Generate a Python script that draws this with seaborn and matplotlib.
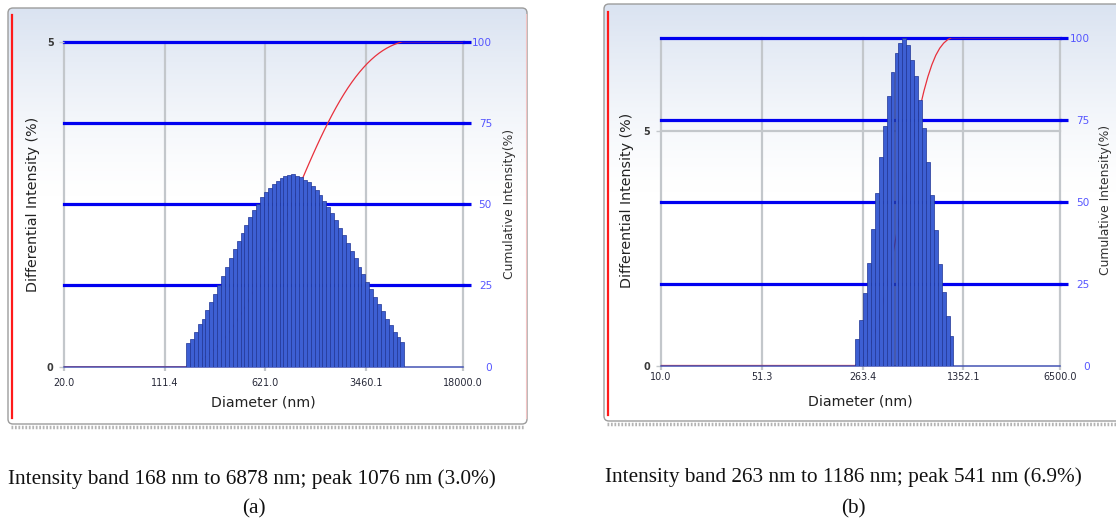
import numpy as np
import seaborn as sns
import matplotlib
matplotlib.use("Agg")
from matplotlib import pyplot as plt
from matplotlib.patches import FancyBboxPatch
from matplotlib.ticker import NullLocator

# panel (a): bin centres (nm) and differential intensity (%)
diam_a = [165.7, 177.1, 189.3, 202.3, 216.2, 231.1, 247.0, 264.0, 282.2, 301.6,
          322.3, 344.5, 368.2, 393.5, 420.6, 449.6, 480.5, 513.5, 548.9, 586.6,
          627.0, 670.1, 716.2, 765.5, 818.2, 874.5, 934.6, 998.9, 1067.7, 1141.1,
          1219.6, 1303.5, 1393.2, 1489.1, 1591.5, 1701.0, 1818.1, 1943.2, 2076.9, 2219.8,
          2372.5, 2535.8, 2710.2, 2896.7, 3096.0, 3309.0, 3536.7, 3780.0, 4040.1, 4318.1,
          4615.2, 4932.7, 5272.1, 5634.9, 6022.6, 6437.0]
diff_a = [0.36, 0.43, 0.53, 0.65, 0.74, 0.87, 0.99, 1.12, 1.26, 1.40,
          1.53, 1.67, 1.81, 1.94, 2.06, 2.18, 2.30, 2.41, 2.51, 2.61,
          2.68, 2.75, 2.81, 2.86, 2.90, 2.93, 2.95, 2.96, 2.94, 2.92,
          2.88, 2.84, 2.78, 2.72, 2.64, 2.55, 2.46, 2.36, 2.26, 2.14,
          2.03, 1.91, 1.78, 1.67, 1.54, 1.43, 1.31, 1.19, 1.08, 0.96,
          0.85, 0.74, 0.64, 0.54, 0.46, 0.38]

# panel (b)
diam_b = [241.4, 257.3, 274.2, 292.3, 311.5, 332.0, 353.9, 377.2, 402.0, 428.5,
          456.7, 486.7, 518.7, 552.9, 589.3, 628.1, 669.4, 713.5, 760.4, 810.5,
          863.8, 920.7, 981.3, 1045.9, 1114.7]
diff_b = [0.56, 0.98, 1.55, 2.19, 2.91, 3.68, 4.45, 5.12, 5.76, 6.27,
          6.68, 6.88, 6.99, 6.84, 6.52, 6.18, 5.67, 5.07, 4.35, 3.64,
          2.90, 2.17, 1.56, 1.05, 0.62]

xticks_a = [20.0, 111.4, 621.0, 3460.1, 18000.0]
xticks_b = [10.0, 51.3, 263.4, 1352.1, 6500.0]
left_ticks = [0, 5]
left_top_a = 5
left_top_b = 7
cum_ticks = [0, 25, 50, 75, 100]
captions = ["Intensity band 168 nm to 6878 nm; peak 1076 nm (3.0%)",
            "Intensity band 263 nm to 1186 nm; peak 541 nm (6.9%)"]
tags = ["(a)", "(b)"]

W, H = 1116, 520
fig = plt.figure(figsize=(W / 100, H / 100), dpi=100)

# background layer in pixel coordinates
bg = fig.add_axes([0, 0, 1, 1])
bg.set_xlim(0, W)
bg.set_ylim(H, 0)
bg.axis("off")

top_col = np.array([0.855, 0.89, 0.945])
t = np.linspace(0, 1, 300)[:, None]
fade = np.clip(1 - t / 0.45, 0, 1) ** 1.3
grad = (1 - fade) * np.ones(3) + fade * top_col
grad = np.repeat(grad[:, None, :], 2, axis=1)


def px(x, y):
    return x / W, 1 - y / H


def frame(x0, y0, x1, y1, red_x, red_y0, red_y1, pink_right=False):
    box = FancyBboxPatch((x0, y0), x1 - x0, y1 - y0,
                         boxstyle="round,pad=0,rounding_size=5",
                         fc="none", ec="#9c9c9c", lw=1.0, zorder=3)
    bg.add_patch(box)
    im = bg.imshow(grad, extent=(x0, x1, y1, y0), aspect="auto", zorder=1)
    im.set_clip_path(box)
    bg.plot([x0 + 3, x1 - 3], [y1 + 2.5, y1 + 2.5], color="#b4b4b4", lw=2.5,
            ls=(0, (0.5, 0.5)), zorder=2)
    bg.plot([red_x, red_x], [red_y0, red_y1], color="#ff1a1a", lw=1.6, zorder=4)
    if pink_right:
        bg.plot([x1 - 1, x1 - 1], [y0 + 6, y1 - 6], color="#f3c4c4", lw=0.8, zorder=4)


frame(8, 8, 527, 424, 12, 15, 418, pink_right=True)
frame(604, 4, 1130, 421, 607.7, 11.7, 415)

grid_gray = "#c3c7cb"
line_blue = "#0000f0"
bar_fill = "#3d5fd3"
bar_edge = "#1f3494"


def panel(box, diam, diff, xticks, left_top, xpad, ylab_xy, xlab_xy, cum_xy):
    l, t_, r, b = box
    ax = fig.add_axes([l / W, 1 - b / H, (r - l) / W, (b - t_) / H])
    ax.patch.set_alpha(0)
    ax.set_xscale("log")

    sns.barplot(x=diam, y=diff, orient="x", native_scale=True, width=1,
                color=bar_fill, saturation=1, edgecolor=bar_edge, linewidth=0.5,
                errorbar=None, ax=ax, zorder=3)

    # cumulative intensity, drawn in left-axis units behind the bars
    d = np.array(diam)
    v = np.array(diff)
    le = np.log10(d)
    first_edge = 10 ** (le[0] - (le[1] - le[0]) / 2)
    cum = np.cumsum(v) / v.sum() * 100
    cx = [xticks[0], first_edge] + list(d) + [xticks[-1]]
    cy = np.array([0, 0] + list(cum) + [100]) / 100 * left_top
    sns.lineplot(x=cx, y=cy, sort=False, estimator=None, color="#e8303c",
                 lw=0.9, ax=ax, zorder=2)

    for xt in xticks:
        ax.axvline(xt, color=grid_gray, lw=1.6, zorder=1, clip_on=False)
    for yt in left_ticks[1:]:
        ax.axhline(yt, color=grid_gray, lw=1.6, zorder=1, clip_on=False)
    for c in cum_ticks[1:]:
        ax.axhline(c / 100 * left_top, color=line_blue, lw=2.3, zorder=1.3, clip_on=False)
    ax.axhline(0, color="#4454b4", lw=1.1, zorder=2.5, clip_on=False)

    ax.set_xlim(xticks[0], xticks[-1])
    ax.set_ylim(0, left_top)
    ax.set_xticks(xticks)
    ax.set_xticklabels([f"{x:.1f}" for x in xticks])
    ax.xaxis.set_minor_locator(NullLocator())
    ax.set_yticks(left_ticks)
    ax.set_yticklabels([str(y) for y in left_ticks])
    ax.tick_params(axis="x", length=3, width=1.6, color=grid_gray, pad=xpad,
                   labelsize=6.9, labelcolor="#262838")
    ax.tick_params(axis="y", length=3.5, width=1.0, color=grid_gray, pad=4.0,
                   labelsize=7, labelcolor="#3a3a3a")
    for lab in ax.get_yticklabels():
        lab.set_fontweight("bold")
    ax.set_xlabel("")
    ax.set_ylabel("")
    for s in ax.spines.values():
        s.set_visible(False)

    ax2 = ax.twinx()
    ax2.set_ylim(0, 100)
    ax2.set_yticks(cum_ticks)
    ax2.set_yticklabels([str(c) for c in cum_ticks])
    ax2.tick_params(axis="y", length=5.5, width=2.3, color=line_blue, pad=15.6,
                    labelsize=7.6, labelcolor="#5656ff")
    for lab in ax2.get_yticklabels():
        lab.set_ha("right")
    ax2.yaxis.get_major_ticks()[0].tick2line.set_visible(False)
    for s in ax2.spines.values():
        s.set_visible(False)

    fig.text(*px(*ylab_xy), "Differential Intensity (%)", rotation=90,
             ha="center", va="center", fontsize=10.3, color="#222222")
    fig.text(*px(*xlab_xy), "Diameter (nm)", ha="center", va="center",
             fontsize=10.2, color="#222222")
    fig.text(*px(*cum_xy), "Cumulative Intensity(%)", rotation=90,
             ha="center", va="center", fontsize=8.9, color="#333333")
    return ax


panel((64, 41.7, 462.7, 366.7), diam_a, diff_a, xticks_a, left_top_a, 5.0,
      (33, 204), (263, 403), (509, 204))
panel((660.7, 37.7, 1060.3, 365.5), diam_b, diff_b, xticks_b, left_top_b, 1.8,
      (626.7, 200), (860, 401.7), (1105, 200))

serif = ["Liberation Serif", "DejaVu Serif"]
fig.text(*px(252, 479), captions[0], ha="center", va="center", fontsize=15.3,
         family=serif, color="#111111")
fig.text(*px(843, 477), captions[1], ha="center", va="center", fontsize=15.3,
         family=serif, color="#111111")
fig.text(*px(254, 509), tags[0], ha="center", va="center", fontsize=15.3,
         family=serif, color="#111111")
fig.text(*px(853, 509), tags[1], ha="center", va="center", fontsize=15.3,
         family=serif, color="#111111")

fig.savefig("out.png", dpi=100)
